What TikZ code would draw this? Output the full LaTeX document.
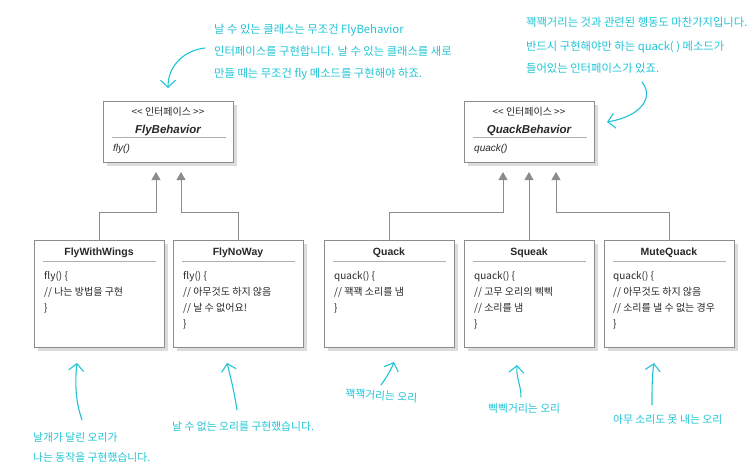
\documentclass[tikz,border=0pt]{standalone}
\usepackage{fontspec}
\setmainfont{Liberation Sans}
\newfontfamily\kr{Noto Sans CJK KR}
\usetikzlibrary{arrows.meta,shadows}
\definecolor{hand}{RGB}{30,196,214}
\definecolor{boxline}{RGB}{140,140,140}
\definecolor{shade}{RGB}{220,220,220}
\definecolor{ink}{RGB}{40,40,40}
\tikzset{
 umlbox/.style={draw=boxline, line width=0.8pt, fill=white, inner sep=0pt, outer sep=0pt,
   anchor=north west, minimum width=130pt,
   drop shadow={shadow xshift=4pt, shadow yshift=-4pt, fill=shade, opacity=1}},
 ifbox/.style={umlbox, minimum height=61pt},
 clbox/.style={umlbox, minimum height=107pt},
 sepline/.style={draw=boxline!70, line width=0.6pt},
 stereo/.style={font=\kr\fontsize{10}{12}\selectfont, text=ink, anchor=base, inner sep=0pt},
 ifname/.style={font=\fontsize{11.5}{13}\selectfont\bfseries\itshape, text=ink, anchor=base, inner sep=0pt},
 ifop/.style={font=\fontsize{10}{12}\selectfont\itshape, text=ink, anchor=base west, inner sep=0pt},
 title/.style={font=\fontsize{10.5}{12}\selectfont\bfseries, text=ink, anchor=base, inner sep=0pt},
 body/.style={font=\kr\fontsize{10}{12}\selectfont, text=ink, anchor=base west, inner sep=0pt},
 inh/.style={draw=boxline, line width=0.8pt, -{Triangle[width=9pt,length=8pt]}},
 note/.style={font=\kr\fontsize{11.3}{13}\selectfont, text=hand, anchor=base west, inner sep=0pt},
 notesm/.style={font=\kr\fontsize{10.8}{13}\selectfont, text=hand, anchor=base west, inner sep=0pt},
 handarrow/.style={draw=hand, line width=1.1pt, line cap=round, -{Straight Barb[length=7pt,width=15pt]}},
}
\begin{document}
\begin{tikzpicture}[x=1pt,y=-1pt]
\useasboundingbox (0,0) rectangle (755,471);

% interfaces
\node[ifbox] (fly) at (103,101) {};
\node[stereo] (flyS) at (168,115) {<< 인터페이스 >>};
\node[ifname] (flyN) at (168,133) {FlyBehavior};
\draw[sepline] (112,137) -- (226,137);
\node[ifop] (flyO) at (113,151) {fly()};

\node[ifbox] (qb) at (464,101) {};
\node[stereo] (qbS) at (529,115) {<< 인터페이스 >>};
\node[ifname] (qbN) at (529,133) {QuackBehavior};
\draw[sepline] (473,137) -- (587,137);
\node[ifop] (qbO) at (474,151) {quack()};

% classes
\node[clbox] (fww) at (34,240) {};
\node[title] (fwwT) at (99,255) {FlyWithWings};
\draw[sepline] (43,261) -- (156,261);
\node[body] (fww1) at (44,279) {fly() \{};
\node[body] (fww2) at (44,295) {// 나는 방법을 구현};
\node[body] (fww3) at (44,311) {\}};

\node[clbox] (fnw) at (173,240) {};
\node[title] (fnwT) at (238,255) {FlyNoWay};
\draw[sepline] (182,261) -- (295,261);
\node[body] (fnw1) at (183,279) {fly() \{};
\node[body] (fnw2) at (183,295) {// 아무것도 하지 않음};
\node[body] (fnw3) at (183,311) {// 날 수 없어요!};
\node[body] (fnw4) at (183,327) {\}};

\node[clbox] (qk) at (324,240) {};
\node[title] (qkT) at (389,255) {Quack};
\draw[sepline] (333,261) -- (446,261);
\node[body] (qk1) at (334,279) {quack() \{};
\node[body] (qk2) at (334,295) {// 꽥꽥 소리를 냄};
\node[body] (qk3) at (334,311) {\}};

\node[clbox] (sq) at (464,240) {};
\node[title] (sqT) at (529,255) {Squeak};
\draw[sepline] (473,261) -- (586,261);
\node[body] (sq1) at (474,279) {quack() \{};
\node[body] (sq2) at (474,295) {// 고무 오리의 삑삑};
\node[body] (sq3) at (474,311) {// 소리를 냄};
\node[body] (sq4) at (474,327) {\}};

\node[clbox] (mq) at (604,240) {};
\node[title] (mqT) at (669,255) {MuteQuack};
\draw[sepline] (613,261) -- (726,261);
\node[body] (mq1) at (613,279) {quack() \{};
\node[body] (mq2) at (613,295) {// 아무것도 하지 않음};
\node[body] (mq3) at (613,311) {// 소리를 낼 수 없는 경우};
\node[body] (mq4) at (613,327) {\}};

% inheritance connectors
\coordinate (tf1) at (156,172);
\coordinate (tf2) at (181,172);
\coordinate (tq1) at (503,172);
\coordinate (tq2) at (529,172);
\coordinate (tq3) at (556,172);
\draw[inh] (fww.north) -- ++(0,-28) -| (tf1);
\draw[inh] (fnw.north) -- ++(0,-28) -| (tf2);
\draw[inh] (qk.north) -- ++(0,-28) -| (tq1);
\draw[inh] (sq.north) -- (tq2);
\draw[inh] (mq.north) -- ++(0,-28) -| (tq3);

% top notes
\node[note] (tl1) at (214,33) {날 수 있는 클래스는 무조건 FlyBehavior};
\node[note] (tl2) at (214,55) {인터페이스를 구현합니다. 날 수 있는 클래스를 새로};
\node[note] (tl3) at (214,77) {만들 때는 무조건 fly 메소드를 구현해야 하죠.};
\coordinate (a0s) at (205,48);
\coordinate (a0e) at (168,88);
\draw[handarrow] (a0s) .. controls (186,50) and (168,64) .. (a0e);

\node[note] (tr1) at (526,27) {꽥꽥거리는 것과 관련된 행동도 마찬가지입니다.};
\node[note] (tr2) at (526,50) {반드시 구현해야만 하는 quack( ) 메소드가};
\node[note] (tr3) at (526,72) {들어있는 인터페이스가 있죠.};
\coordinate (a6s) at (642,82);
\coordinate (a6e) at (607,122);
\draw[handarrow] (a6s) .. controls (654,97) and (642,116) .. (a6e);

% bottom notes
\node[notesm] (b1a) at (33,441) {날개가 달린 오리가};
\node[notesm] (b1b) at (33,461) {나는 동작을 구현했습니다.};
\coordinate (a1s) at (82,420);
\coordinate (a1e) at (77,363);
\draw[handarrow] (a1s) .. controls (75,400) and (75,380) .. (a1e);

\node[notesm] (b2) at (172,430) {날 수 없는 오리를 구현했습니다.};
\coordinate (a2s) at (237,410);
\coordinate (a2e) at (227,363);
\draw[handarrow] (a2s) .. controls (234,390) and (230,375) .. (a2e);

\node[notesm, rotate=-4] (b3) at (345,397) {꽥꽥거리는 오리};
\coordinate (a3s) at (381,385);
\coordinate (a3e) at (394,362);
\draw[handarrow] (a3s) .. controls (386,378) and (391,370) .. (a3e);

\node[notesm] (b4) at (488,412) {삑삑거리는 오리};
\coordinate (a4s) at (521,397);
\coordinate (a4e) at (517,365);
\draw[handarrow] (a4s) .. controls (521,385) and (516,378) .. (a4e);

\node[notesm] (b5) at (613,423) {아무 소리도 못 내는 오리};
\coordinate (a5s) at (652,405);
\coordinate (a5e) at (654,363);
\draw[handarrow] (a5s) .. controls (652,390) and (652,375) .. (a5e);
\end{tikzpicture}
\end{document}
